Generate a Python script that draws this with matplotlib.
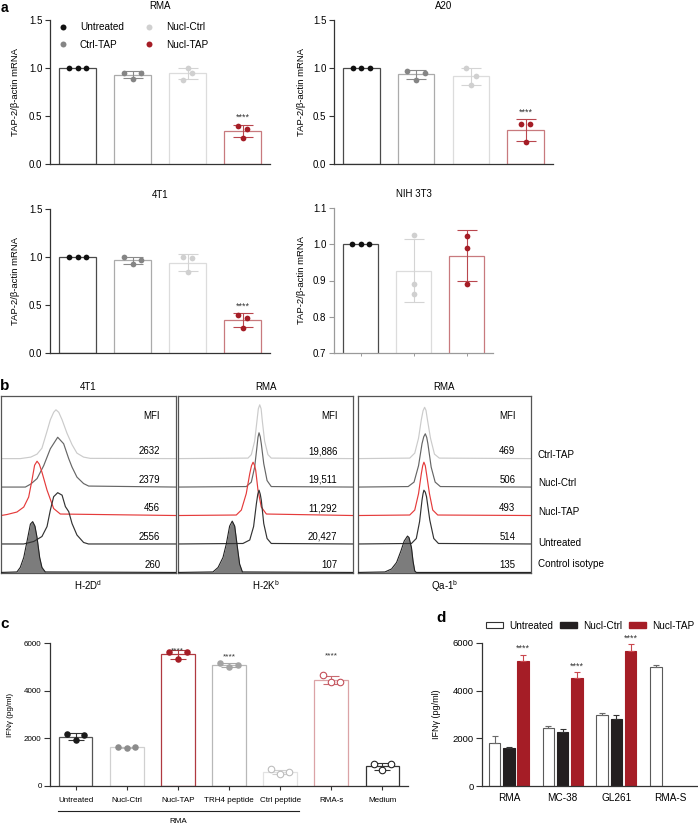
"""Recreate the TAP-2 knock-down figure (qPCR, flow histograms, IFN-gamma release)."""

import matplotlib

matplotlib.use("Agg")

import matplotlib.pyplot as plt
import matplotlib.transforms as mtransforms
import numpy as np
from matplotlib.lines import Line2D
from matplotlib.patches import Patch

plt.rcParams["font.family"] = ["Liberation Sans", "DejaVu Sans"]
plt.rcParams["mathtext.default"] = "regular"
plt.rcParams["font.size"] = 7

W, H = 698, 826

# ---------------- panel a: TAP-2/beta-actin mRNA (three replicates each)
A_GROUPS = ["Untreated", "Ctrl-TAP", "Nucl-Ctrl", "Nucl-TAP"]
RMA_PTS = [[1.0, 1.0, 1.0], [0.95, 0.89, 0.95], [0.88, 1.0, 0.95], [0.40, 0.27, 0.36]]
A20_PTS = [[1.0, 1.0, 1.0], [0.97, 0.88, 0.95], [1.0, 0.82, 0.92], [0.42, 0.225, 0.42]]
T41_PTS = [[1.0, 1.0, 1.0], [1.0, 0.93, 0.965], [0.997, 0.84, 0.99], [0.40, 0.265, 0.363]]
NIH_GROUPS = ["Untreated", "Nucl-Ctrl", "Nucl-TAP"]
NIH_PTS = [[1.0, 1.0, 1.0], [1.026, 0.891, 0.863], [1.024, 0.991, 0.889]]

# ---------------- panel b: flow histograms (channel 0-100, relative count)
HIST_ROWS = ["Ctrl-TAP", "Nucl-Ctrl", "Nucl-TAP", "Untreated", "Control isotype"]
H2DD_CH = [
    [0, 11, 17, 20.6, 23.4, 26.3, 28.2, 30.1, 31.4, 33.0, 34.9, 37.7, 40.6, 43.4, 47.2, 51, 100],
    [0, 13.9, 17.0, 20.6, 24.4, 28.2, 32.4, 35.8, 38.7, 40.6, 43.4, 47.2, 50.1, 100],
    [0, 3.4, 9.1, 13.0, 15.8, 17.7, 19.2, 20.6, 21.9, 23.4, 26.3, 30.1, 33.9, 100],
    [0, 13, 18.7, 23.4, 26.3, 28.2, 30.1, 32.4, 34.9, 36.8, 38.7, 40.6, 43.4, 47.2, 50, 100],
    [0, 9.1, 11, 13, 14.9, 16.8, 18.1, 19.4, 20.6, 22.1, 23.4, 25.3, 100],
]
H2DD_CNT = [
    [0, 0, 3, 9, 21, 55, 78, 93, 98, 93, 78, 51, 28, 11, 3, 0.5, 0],
    [0, 0, 6, 17, 43, 77, 100, 87, 57, 40, 20, 7, 2, 0],
    [0, 2, 7, 17, 37, 71, 101, 109, 103, 87, 51, 14, 3, 0],
    [0, 0, 5, 15, 35, 68, 95, 103, 98, 75, 65, 41, 18, 3, 0, 0],
    [0, 1, 10, 30, 63, 97, 102, 93, 70, 30, 10, 1, 0],
]
H2KB_CH = [
    [0, 40, 41.9, 43.8, 45.1, 45.9, 46.7, 47.5, 48.2, 49.5, 51.4, 53.3, 100],
    [0, 39, 41.9, 43.8, 45.1, 45.7, 46.3, 47.0, 47.6, 49, 50.9, 53.3, 100],
    [0, 33.3, 36.2, 39, 41, 42.0, 42.9, 43.7, 44.4, 45.7, 47.6, 50.5, 100],
    [0, 37.1, 41, 43.2, 44.8, 45.6, 46.3, 47.0, 47.6, 49, 50.9, 53.3, 100],
    [0, 20, 22.9, 25.7, 27.6, 29.5, 31, 32.4, 33.7, 35.2, 36.8, 100],
]
H2KB_CNT = [
    [0, 1, 8, 35, 75, 100, 108, 100, 75, 35, 8, 1, 0],
    [0, 1, 10, 40, 80, 100, 109, 101, 87, 47, 13, 1, 0],
    [0, 1, 11, 44, 84, 100, 107, 101, 91, 51, 17, 3, 0],
    [0, 1, 8, 35, 81, 100, 108, 100, 88, 41, 11, 1, 0],
    [0, 1, 10, 30, 57, 93, 103, 93, 57, 17, 1, 0],
]
QA1_CH = [
    [0, 29.9, 32.8, 35, 36.6, 37.6, 38.5, 39.3, 40, 41.9, 44.2, 47, 100],
    [0, 29, 32.4, 35, 37, 38.0, 38.9, 39.7, 40.4, 42.3, 44.6, 47.6, 100],
    [0, 29.9, 32.8, 35, 36.6, 37.4, 38.1, 38.9, 39.6, 41.3, 43.2, 46.1, 100],
    [0, 30.9, 33.7, 35.6, 37, 37.6, 38.1, 38.9, 39.6, 41.5, 43.8, 46.5, 100],
    [0, 15.6, 19.4, 22.3, 24.8, 26.7, 28.6, 29.5, 30.9, 31.8, 32.8, 33.7, 100],
]
QA1_CNT = [
    [0, 1, 11, 41, 78, 96, 103, 97, 81, 41, 9, 1, 0],
    [0, 1, 10, 43, 87, 101, 107, 100, 87, 40, 10, 1, 0],
    [0, 1, 11, 44, 84, 100, 107, 100, 84, 44, 11, 1, 0],
    [0, 1, 11, 45, 88, 101, 108, 104, 95, 48, 11, 1, 0],
    [0, 1, 7, 20, 43, 63, 73, 70, 50, 23, 3, 0, 0],
]
H2DD_MFI = ["2632", "2379", "456", "2556", "260"]
H2KB_MFI = ["19,886", "19,511", "11,292", "20,427", "107"]
QA1_MFI = ["469", "506", "493", "514", "135"]

# ---------------- panel c: IFN-gamma (pg/ml), three replicates each
C_GROUPS = ["Untreated", "Nucl-Ctrl", "Nucl-TAP", "TRH4 peptide", "Ctrl peptide", "RMA-s", "Medium"]
C_PTS = [
    [2182, 1916, 2126],
    [1636, 1594, 1636],
    [5636, 5315, 5608],
    [5175, 4993, 5077],
    [699, 503, 573],
    [4657, 4350, 4364],
    [909, 657, 909],
]
C_STARS = {2: 5762, 3: 5510, 5: 5552}

# ---------------- panel d: IFN-gamma (pg/ml), mean + SD
D_GROUPS = ["RMA", "MC-38", "GL261", "RMA-S"]
D_UNTREATED = [1823, 2454, 2987, 4993]
D_UNTREATED_SD = [281, 56, 56, 70]
D_NUCL_CTRL = [1585, 2258, 2805]
D_NUCL_CTRL_SD = [70, 126, 154]
D_NUCL_TAP = [5231, 4530, 5652]
D_NUCL_TAP_SD = [281, 253, 308]

# ---------------- styles
A_EDGE = ["#4a4a4a", "#ababab", "#dcdcdc", "#c87a7e"]
A_DOT = ["#111111", "#858585", "#d0d0d0", "#a51d26"]
A_ERR = ["#4a4a4a", "#8a8a8a", "#d4d4d4", "#b9474e"]
HIST_COLORS = ["#cbcbcb", "#666666", "#e53b3b", "#333333", "#222222"]
RED = "#a51d26"


def px_axes(fig, left, top, right, bottom):
    return fig.add_axes([left / W, 1 - bottom / H, (right - left) / W, (bottom - top) / H])


def star_text(ax, fig, x, y, dy_pt, size=6.5):
    trans = mtransforms.offset_copy(ax.transData, fig=fig, y=dy_pt, units="points")
    ax.text(x, y, "****", ha="center", va="baseline", fontsize=size,
            color="#333333", transform=trans, clip_on=False)


def dot_bar_panel(fig, ax, pts, edge, dot, err, spread, width, capsize,
                  stars=(), dot_size=17, open_dots=(), star_y=None):
    for i, vals in enumerate(pts):
        vals = np.asarray(vals, dtype=float)
        mean, sd = vals.mean(), vals.std(ddof=1)
        ax.bar(i, mean, width, color="white", edgecolor=edge[i], linewidth=0.9, zorder=1)
        if sd > 0:
            ax.errorbar(i, mean, yerr=sd, fmt="none", ecolor=err[i], elinewidth=0.8,
                        capsize=capsize, capthick=0.8, zorder=2)
        xs = i + np.array([-1, 0, 1]) * spread[i]
        if i in open_dots:
            ax.scatter(xs, vals, s=dot_size, facecolor="white", edgecolor=dot[i],
                       linewidths=0.8, zorder=3, clip_on=False)
        else:
            ax.scatter(xs, vals, s=dot_size, color=dot[i], linewidths=0, zorder=3, clip_on=False)
        if i in stars:
            if star_y is None:
                star_text(ax, fig, i, mean + sd, 3.2)
            else:
                star_text(ax, fig, i, star_y[i], -3.0, size=6)


def style_axes(ax, spine="#333333"):
    for side in ("top", "right"):
        ax.spines[side].set_visible(False)
    for side in ("left", "bottom"):
        ax.spines[side].set_color(spine)
        ax.spines[side].set_linewidth(0.9)
    ax.tick_params(axis="y", length=3.5, width=0.8, pad=2, color=spine)


def qpcr_panel(fig, box, title, groups, pts, spread, ylim, yticks, label_x, spine="#333333", stars=(3,)):
    ax = px_axes(fig, *box)
    idx = [A_GROUPS.index(g) for g in groups]
    dot_bar_panel(fig, ax, pts, [A_EDGE[k] for k in idx], [A_DOT[k] for k in idx],
                  [A_ERR[k] for k in idx], spread, 0.67, 7.5, stars=stars)
    ax.set_xlim(-0.5, len(pts) - 0.5)
    ax.set_ylim(*ylim)
    ax.set_yticks(yticks)
    ax.yaxis.set_major_formatter(lambda v, _: f"{v:.1f}")
    ax.set_xticks(range(len(pts)))
    ax.set_xticklabels([])
    style_axes(ax, spine)
    if spine == "#333333":
        ax.tick_params(axis="x", length=0)
    else:
        ax.tick_params(axis="x", length=2.5, width=0.7, color=spine)
    ax.tick_params(axis="y", labelsize=7)
    ax.set_ylabel("TAP-2/β-actin mRNA", fontsize=6.8)
    ax.yaxis.set_label_coords(label_x, 0.5)
    ax.set_title(title, fontsize=7, pad=8)
    return ax


def hist_panel(fig, box, title, marker, chans, counts, mfi):
    ax = px_axes(fig, *box)
    for row in range(5):
        offset = 4 - row
        ch = np.asarray(chans[row], dtype=float)
        yy = offset + np.asarray(counts[row], dtype=float) * 0.0175
        if row == 4:
            ax.fill_between(ch, offset, yy, color="#7c7c7c", lw=0, zorder=2)
            ax.plot(ch, yy, color=HIST_COLORS[row], lw=0.8, zorder=3)
        else:
            ax.plot(ch, yy, color=HIST_COLORS[row], lw=0.85, zorder=2 + row * 0.1)
        ax.text(91, offset + 0.25, mfi[row], ha="right", va="center", fontsize=6.9)
    ax.text(91, 5.48, "MFI", ha="right", va="center", fontsize=7)
    ax.set_xlim(0, 100)
    ax.set_ylim(-0.02, 6.2)
    ax.set_xticks([])
    ax.set_yticks([])
    for sp in ax.spines.values():
        sp.set_color("#555555")
        sp.set_linewidth(0.9)
    ax.set_title(title, fontsize=7, pad=4)
    ax.set_xlabel(marker, fontsize=7, labelpad=4)
    return ax


def main():
    fig = plt.figure(figsize=(W / 100, H / 100), dpi=100)

    # ---- a
    ax_rma = qpcr_panel(fig, (50, 20, 270, 164), "RMA", A_GROUPS, RMA_PTS,
                        [0.16, 0.16, 0.09, 0.085], (0, 1.5), [0, 0.5, 1.0, 1.5], -0.136)
    qpcr_panel(fig, (334, 20, 553, 164), "A20", A_GROUPS, A20_PTS,
               [0.16, 0.16, 0.085, 0.08], (0, 1.5), [0, 0.5, 1.0, 1.5], -0.128)
    qpcr_panel(fig, (50, 209, 270, 353), "4T1", A_GROUPS, T41_PTS,
               [0.16, 0.16, 0.085, 0.08], (0, 1.5), [0, 0.5, 1.0, 1.5], -0.136)
    qpcr_panel(fig, (334, 208, 493, 353), "NIH 3T3", NIH_GROUPS, NIH_PTS,
               [0.16, 0, 0], (0.7, 1.1), [0.7, 0.8, 0.9, 1.0, 1.1], -0.176,
               spine="#9a9a9a", stars=())
    handles = [Line2D([], [], ls="none", marker="o", ms=4.3, mec="none", mfc=A_DOT[k])
               for k in range(4)]
    ax_rma.legend(handles, A_GROUPS, ncol=2, loc="upper left", bbox_to_anchor=(0.036, 0.985),
                  frameon=False, fontsize=7.2, handlelength=1.0, handletextpad=1.2,
                  columnspacing=2.0, labelspacing=0.75, borderpad=0, borderaxespad=0)

    # ---- b
    hist_panel(fig, (1, 396, 176, 573), "4T1", "H-2D$^{d}$", H2DD_CH, H2DD_CNT, H2DD_MFI)
    hist_panel(fig, (178, 396, 353, 573), "RMA", "H-2K$^{b}$", H2KB_CH, H2KB_CNT, H2KB_MFI)
    hist_panel(fig, (358, 396, 531, 573), "RMA", "Qa-1$^{b}$", QA1_CH, QA1_CNT, QA1_MFI)
    for label, ypx in zip(HIST_ROWS, [455, 483, 512, 543, 564]):
        fig.text(538 / W, 1 - ypx / H, label, ha="left", va="center", fontsize=7.1)

    # ---- c
    ax_c = px_axes(fig, 50, 643, 408, 786)
    c_edge = ["#555555", "#d0d0d0", "#b03a40", "#b8b8b8", "#e2e2e2", "#dba3a6", "#333333"]
    c_dot = ["#1a1a1a", "#8c8c8c", RED, "#a3a3a3", "#bdbdbd", "#c4505a", "#222222"]
    c_err = ["#333333", "#bdbdbd", "#b03a40", "#a8a8a8", "#cfcfcf", "#c86a70", "#333333"]
    dot_bar_panel(fig, ax_c, C_PTS, c_edge, c_dot, c_err, [0.17] * 7, 0.66, 6,
                  stars=tuple(C_STARS), dot_size=22, open_dots=(4, 5, 6), star_y=C_STARS)
    ax_c.set_xlim(-0.5, 6.5)
    ax_c.set_ylim(0, 6000)
    ax_c.set_yticks([0, 2000, 4000, 6000])
    ax_c.set_xticks(range(7))
    ax_c.set_xticklabels(C_GROUPS, fontsize=5.8)
    style_axes(ax_c)
    ax_c.tick_params(axis="x", length=3, width=0.8, pad=5, color="#333333")
    ax_c.tick_params(axis="y", labelsize=5.8, length=4)
    ax_c.set_ylabel("IFNγ (pg/ml)", fontsize=5.8)
    ax_c.yaxis.set_label_coords(-0.10, 0.5)
    xa = ax_c.get_xaxis_transform()
    ax_c.plot([-0.34, 4.36], [-0.175, -0.175], color="#222222", lw=0.8,
              transform=xa, clip_on=False)
    ax_c.text(2.0, -0.25, "RMA", transform=xa, ha="center", va="center", fontsize=5.8)

    # ---- d
    ax_d = px_axes(fig, 482, 643, 697, 786)
    step, bw = 0.265, 0.217
    xg = np.arange(len(D_GROUPS))
    n3 = len(D_NUCL_CTRL)
    ebar = dict(capsize=2.2, elinewidth=0.8, capthick=0.8)
    ax_d.bar(xg - step, D_UNTREATED, bw, color="white", edgecolor="#5a5a5a", lw=0.8,
             yerr=[np.zeros(len(xg)), D_UNTREATED_SD], error_kw=dict(ecolor="#6a6a6a", **ebar),
             label="Untreated")
    ax_d.bar(xg[:n3], D_NUCL_CTRL, bw, color="#231f20", edgecolor="#231f20", lw=0.8,
             yerr=[np.zeros(n3), D_NUCL_CTRL_SD], error_kw=dict(ecolor="#333333", **ebar),
             label="Nucl-Ctrl")
    ax_d.bar(xg[:n3] + step, D_NUCL_TAP, bw, color=RED, edgecolor=RED, lw=0.8,
             yerr=[np.zeros(n3), D_NUCL_TAP_SD], error_kw=dict(ecolor="#c9474e", **ebar),
             label="Nucl-TAP")
    for i in range(n3):
        star_text(ax_d, fig, xg[i] + step, D_NUCL_TAP[i] + D_NUCL_TAP_SD[i], 2.5, size=6.5)
    ax_d.set_xlim(-0.5, 3.5)
    ax_d.set_ylim(0, 6000)
    ax_d.set_yticks([0, 2000, 4000, 6000])
    ax_d.set_xticks(xg)
    ax_d.set_xticklabels(D_GROUPS, fontsize=7.2)
    style_axes(ax_d)
    ax_d.tick_params(axis="x", length=0, pad=5)
    ax_d.tick_params(axis="y", labelsize=6.8, length=4)
    ax_d.set_ylabel("IFNγ (pg/ml)", fontsize=6.5)
    ax_d.yaxis.set_label_coords(-0.19, 0.5)
    leg_handles = [Patch(facecolor="white", edgecolor="#333333", lw=0.8),
                   Patch(facecolor="#231f20", edgecolor="#231f20"),
                   Patch(facecolor=RED, edgecolor=RED)]
    fig.legend(leg_handles, ["Untreated", "Nucl-Ctrl", "Nucl-TAP"], ncol=3,
               loc="upper left", bbox_to_anchor=(486 / W, 1 - 621 / H), frameon=False,
               fontsize=7.2, handlelength=1.7, handleheight=0.55, handletextpad=0.6,
               columnspacing=0.7, borderpad=0, borderaxespad=0)

    # ---- panel letters
    fig.text(0.5 / W, 1 - 0.5 / H, "a", fontsize=10, fontweight="bold", ha="left", va="top")
    for letter, x, y in [("b", 0, 390), ("c", 0, 628), ("d", 436, 622)]:
        fig.text(x / W, 1 - y / H, letter, fontsize=11, fontweight="bold", ha="left", va="baseline")

    fig.savefig("out.png", dpi=100)
    plt.close(fig)


if __name__ == "__main__":
    main()
